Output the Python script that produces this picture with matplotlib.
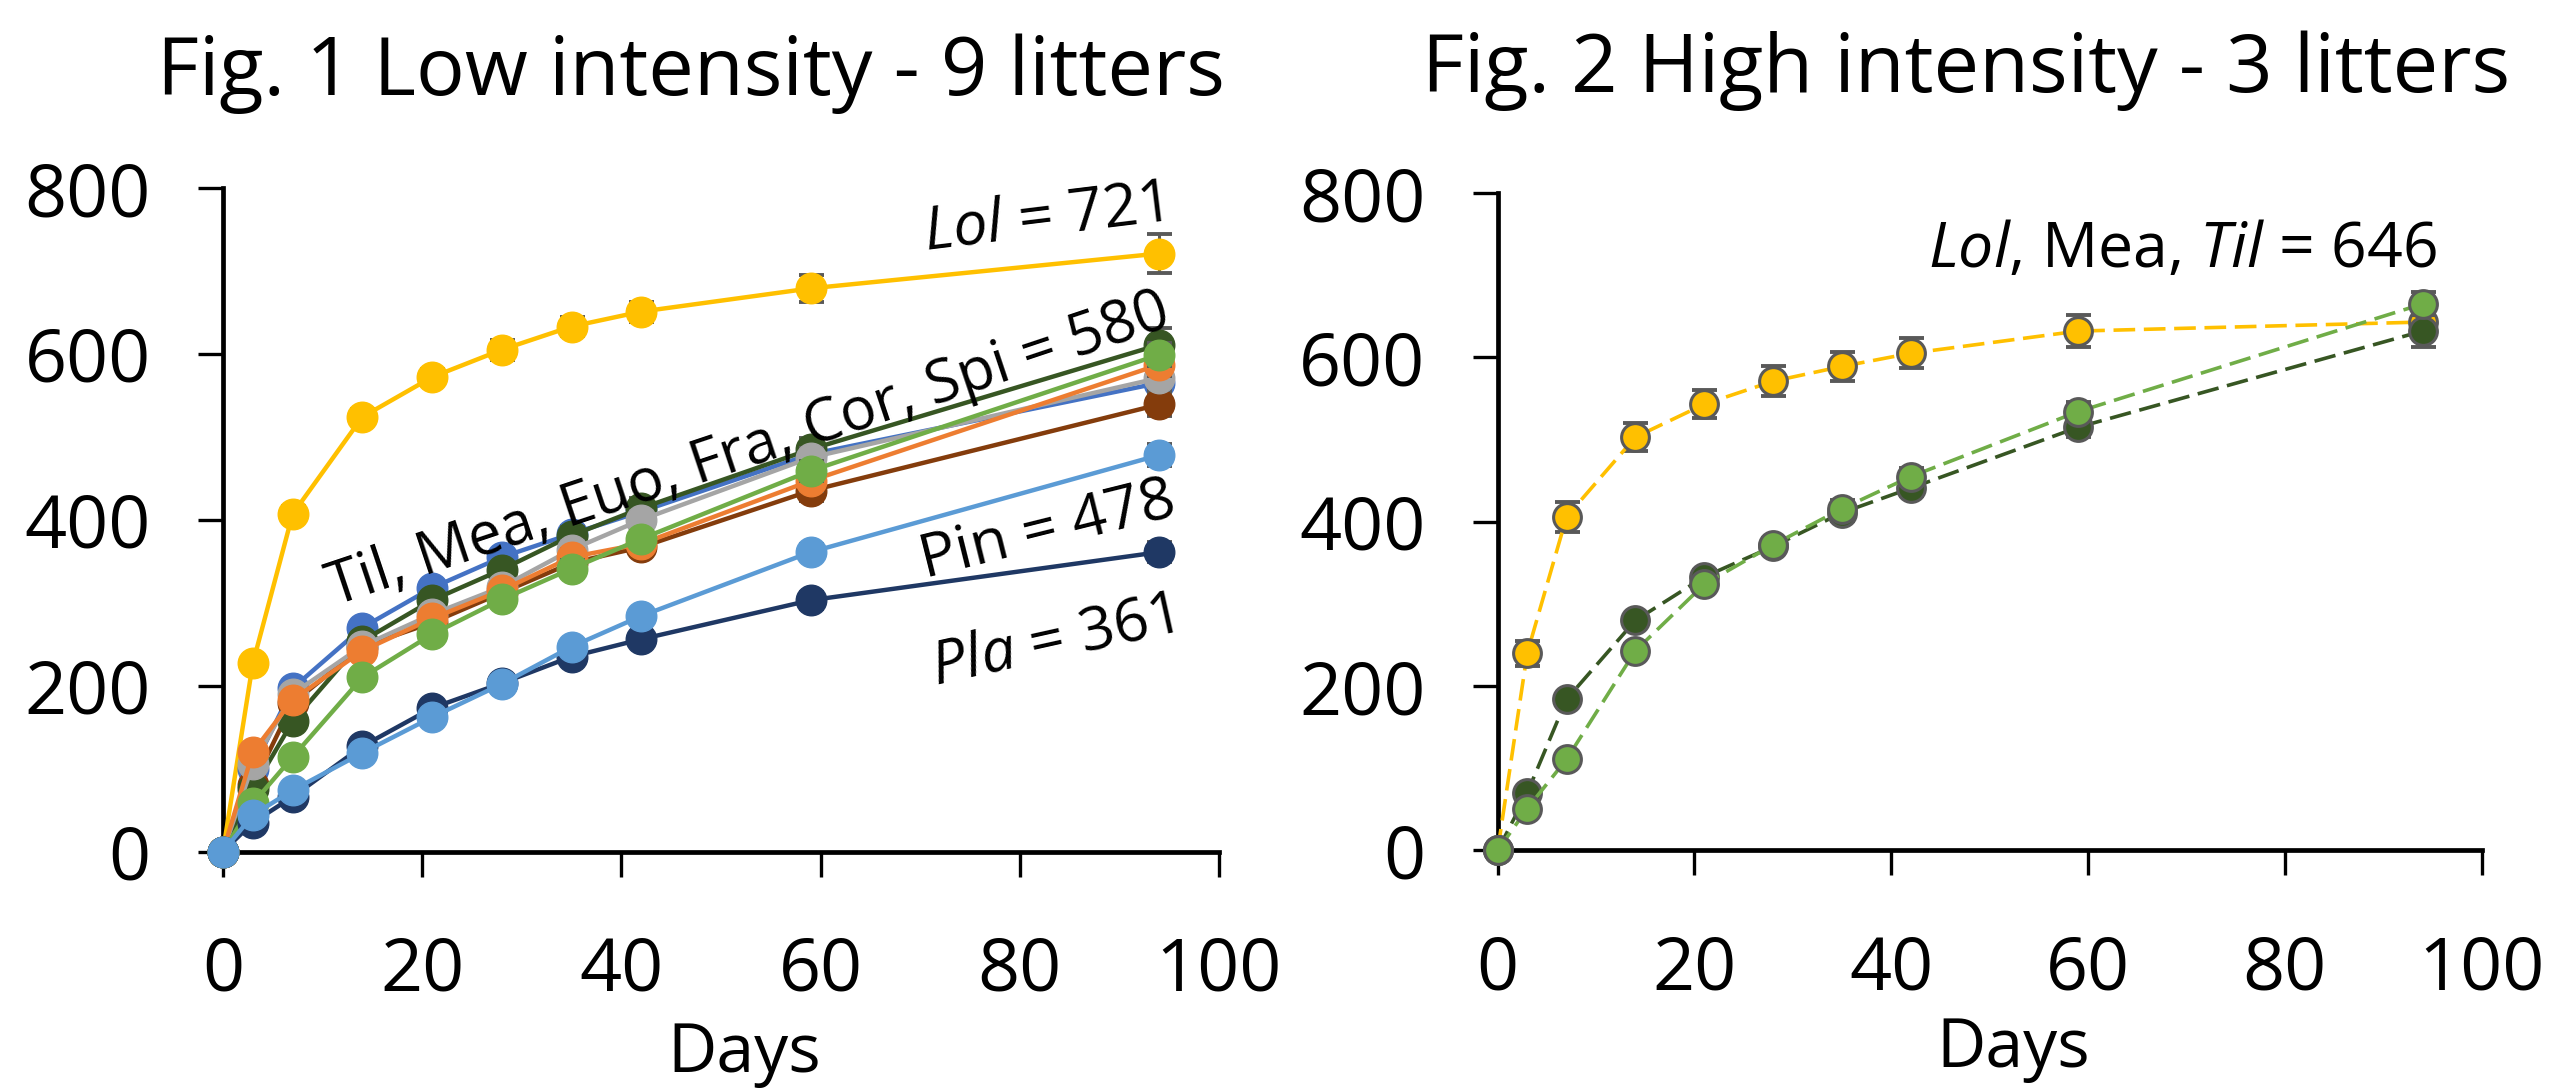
# Litter decomposition curves, low vs high intensity
import matplotlib
matplotlib.use('Agg')
from matplotlib import pyplot as plt

plt.rcParams['font.family'] = ['Open Sans', 'DejaVu Sans']
plt.rcParams['mathtext.fontset'] = 'custom'
plt.rcParams['mathtext.rm'] = 'Open Sans'
plt.rcParams['mathtext.it'] = 'Open Sans:italic'

# ***************************** Data *****************************
days = [0, 3, 7, 14, 21, 28, 35, 42, 59, 94]
x_ticks = [0, 20, 40, 60, 80, 100]
y_ticks = [0, 200, 400, 600, 800]

# Fig. 1 - low intensity, 9 litters
lol_low = [0, 227, 407, 524, 572, 605, 633, 651, 679, 721]
euo_low = [0, 100, 197, 270, 318, 355, 383, 410, 479, 565]
spi_low = [0, 80, 179, 247, 276, 312, 348, 367, 435, 539]
til_low = [0, 75, 157, 254, 303, 340, 381, 414, 485, 611]
fra_low = [0, 105, 190, 248, 286, 319, 364, 400, 475, 571]
cor_low = [0, 120, 183, 242, 281, 315, 355, 371, 447, 587]
mea_low = [0, 58, 114, 210, 262, 304, 341, 377, 459, 599]
pla_low = [0, 35, 66, 127, 173, 203, 235, 256, 303, 361]
pin_low = [0, 44, 74, 119, 162, 202, 247, 284, 361, 478]

lol_low_err = [0, 8, 10, 10, 10, 12, 12, 12, 16, 24]
euo_low_err = [0, 5, 6, 8, 8, 8, 10, 10, 12, 14]
spi_low_err = [0, 5, 6, 8, 8, 8, 10, 10, 12, 14]
til_low_err = [0, 5, 6, 8, 8, 8, 10, 12, 14, 20]
fra_low_err = [0, 5, 6, 8, 8, 8, 10, 10, 12, 14]
cor_low_err = [0, 5, 6, 8, 8, 8, 10, 10, 12, 14]
mea_low_err = [0, 5, 6, 8, 8, 8, 10, 10, 12, 14]
pla_low_err = [0, 4, 5, 6, 6, 8, 8, 8, 10, 12]
pin_low_err = [0, 4, 5, 6, 6, 8, 8, 8, 10, 13]

# Fig. 2 - high intensity, 3 litters
lol_high = [0, 240, 406, 503, 543, 571, 589, 605, 632, 643]
til_high = [0, 70, 184, 280, 333, 370, 411, 441, 515, 632]
mea_high = [0, 51, 111, 243, 324, 372, 416, 455, 534, 665]

lol_high_err = [0, 15, 18, 17, 17, 18, 18, 18, 19, 12]
til_high_err = [0, 6, 8, 8, 8, 8, 10, 10, 12, 19]
mea_high_err = [0, 6, 8, 8, 8, 8, 10, 10, 12, 14]

# series in drawing order (last one on top)
low_series = [
    (lol_low, lol_low_err, '#FFC000'),
    (euo_low, euo_low_err, '#4472C4'),
    (spi_low, spi_low_err, '#843C0C'),
    (til_low, til_low_err, '#375623'),
    (fra_low, fra_low_err, '#A5A5A5'),
    (cor_low, cor_low_err, '#ED7D31'),
    (mea_low, mea_low_err, '#70AD47'),
    (pla_low, pla_low_err, '#1F3864'),
    (pin_low, pin_low_err, '#5B9BD5'),
]
high_series = [
    (lol_high, lol_high_err, '#FFC000'),
    (til_high, til_high_err, '#375623'),
    (mea_high, mea_high_err, '#70AD47'),
]

err_color = '#595959'
tick_size = 53


def style_axes(ax):
    ax.set_xlim(0, 100)
    ax.set_ylim(0, 800)
    ax.set_xticks(x_ticks)
    ax.set_yticks(y_ticks)
    ax.spines['top'].set_visible(False)
    ax.spines['right'].set_visible(False)
    for s in ['left', 'bottom']:
        ax.spines[s].set_linewidth(3.4)
        ax.spines[s].set_color('black')
    ax.tick_params(axis='both', direction='out', length=18, width=2.4,
                   labelsize=tick_size, color='black')
    ax.tick_params(axis='x', pad=42)
    ax.tick_params(axis='y', pad=34)


fig = plt.figure(figsize=(25.51, 10.88), dpi=100)

# ***************************** Fig. 1 *****************************
ax0 = fig.add_axes([0.0874, 0.2173, 0.3904, 0.6099])
for i, (vals, errs, col) in enumerate(low_series):
    ax0.errorbar(days, vals, yerr=errs, fmt='none', ecolor=err_color,
                 elinewidth=2.2, capsize=9, capthick=2.8, zorder=3 + 2 * i,
                 clip_on=False)
    ax0.plot(days, vals, '-', color=col, lw=3.2, marker='o', ms=22,
             mec=col, zorder=4 + 2 * i, clip_on=False)
style_axes(ax0)

lab = dict(fontsize=44, ha='right', va='baseline', rotation_mode='anchor',
           zorder=50)
ax0.text(94.4, 761, r'$\mathit{Lol}$ = 721', rotation=7, **lab)
ax0.text(11.25, 296, 'Til, Mea, Euo, Fra, Cor, Spi = 580', rotation=18.5,
         fontsize=43, ha='left', va='baseline', rotation_mode='anchor',
         zorder=50)
ax0.text(95.9, 406, 'Pin = 478', rotation=14, **lab)
ax0.text(95.5, 265, r'$\mathit{Pla}$ = 361', rotation=12.5, **lab)
ax0.text(0.523, -0.332, 'Days', transform=ax0.transAxes, ha='center',
         va='baseline', fontsize=49)

# ***************************** Fig. 2 *****************************
ax1 = fig.add_axes([0.5871, 0.2183, 0.3857, 0.6043])
for i, (vals, errs, col) in enumerate(high_series):
    ax1.errorbar(days, vals, yerr=errs, fmt='none', ecolor=err_color,
                 elinewidth=2.2, capsize=9, capthick=2.8, zorder=3 + 2 * i,
                 clip_on=False)
    ax1.plot(days, vals, color=col, lw=2.6, dashes=(6, 2.4), marker='o',
             ms=20, mec=err_color, mew=2.2, zorder=4 + 2 * i, clip_on=False)
style_axes(ax1)

ax1.text(95.4, 710, r'$\mathit{Lol}$, Mea, $\mathit{Til}$ = 646', fontsize=45,
         ha='right', va='baseline', zorder=50)
ax1.text(0.524, -0.329, 'Days', transform=ax1.transAxes, ha='center',
         va='baseline', fontsize=49)

# titles
fig.text(691 / 2551, 1 - 95 / 1088, 'Fig. 1 Low intensity - 9 litters',
         ha='center', va='baseline', fontsize=58.5)
fig.text(1966 / 2551, 1 - 92 / 1088, 'Fig. 2 High intensity - 3 litters',
         ha='center', va='baseline', fontsize=58.5)

fig.savefig('out.png', dpi=100)
